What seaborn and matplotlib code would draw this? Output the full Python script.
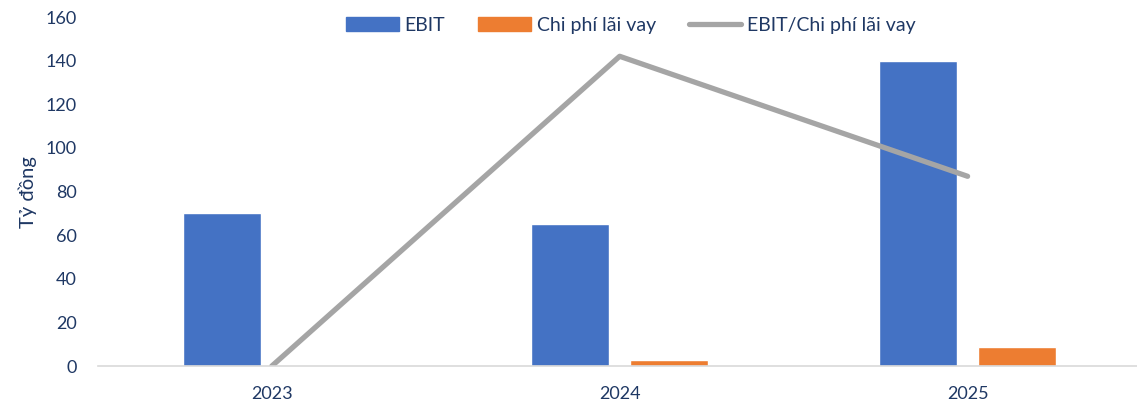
import numpy as np
import pandas as pd
import seaborn as sns
import matplotlib.pyplot as plt
from matplotlib.lines import Line2D
from matplotlib.patches import Patch

years = ['2023', '2024', '2025']
ebit = [70, 65, 140]
chi_phi_lai_vay = [0, 2.6, 8.6]
ebit_ratio = [0, 142, 87]

text_color = '#1F3864'
blue = '#4472C4'
orange = '#ED7D31'
grey = '#A5A5A5'

sns.set_style('white')
plt.rcParams['font.family'] = ['Lato', 'DejaVu Sans']

df = pd.DataFrame({
    'year': years * 2,
    'value': ebit + chi_phi_lai_vay,
    'series': ['EBIT'] * 3 + ['Chi phí lãi vay'] * 3,
})

fig = plt.figure(figsize=(11.37, 4.05), dpi=100)
ax = fig.add_axes([0.086, 0.096, 0.918, 0.862])

sns.barplot(data=df, x='year', y='value', hue='series',
            palette=[blue, orange], width=0.57, gap=0.21,
            saturation=1, legend=False, ax=ax)
sns.lineplot(x=np.arange(len(years)), y=ebit_ratio, color=grey,
             linewidth=3.8, solid_capstyle='round', ax=ax)

ax.set_xlim(-0.5, 2.5)
ax.set_ylim(0, 160)
ax.set_yticks(range(0, 161, 20))
ax.set_xlabel('')
ax.set_ylabel('Tỷ đồng', color=text_color, fontsize=14.5, labelpad=6)
ax.tick_params(axis='y', length=0, pad=15, labelsize=13, labelcolor=text_color)
ax.tick_params(axis='x', length=0, pad=14, labelsize=13, labelcolor=text_color)

for side in ['left', 'right', 'top']:
    ax.spines[side].set_visible(False)
ax.spines['bottom'].set_color('#D9D9D9')
ax.spines['bottom'].set_linewidth(1.2)

# legend across the top
handles = [
    Patch(color=blue, label='EBIT'),
    Patch(color=orange, label='Chi phí lãi vay'),
    Line2D([], [], color=grey, linewidth=3.8, solid_capstyle='round',
           label='EBIT/Chi phí lãi vay'),
]
leg = ax.legend(handles=handles, loc='upper center', bbox_to_anchor=(0.511, 1.05),
                ncol=3, frameon=False, fontsize=14, handlelength=2.7,
                handleheight=0.7, columnspacing=1.7, handletextpad=0.3)
for t in leg.get_texts():
    t.set_color(text_color)

plt.savefig('out.png', dpi=100)
